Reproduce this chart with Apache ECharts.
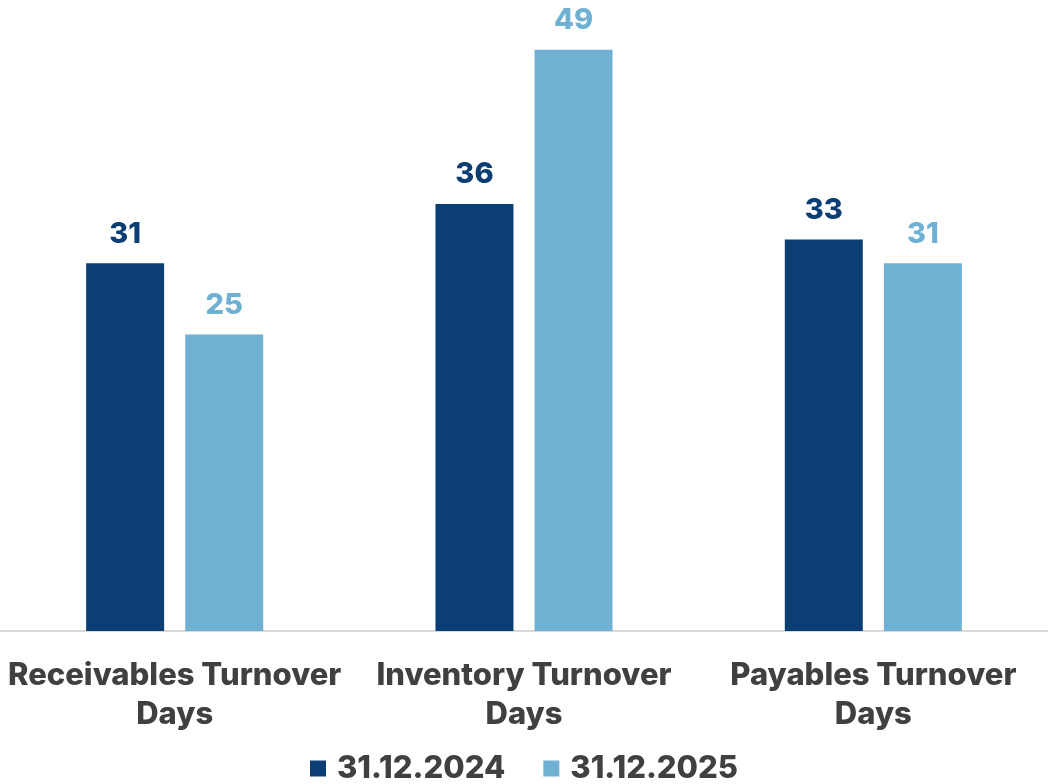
<!DOCTYPE html>
<html>
<head>
<meta charset="utf-8">
<script src="https://cdn.jsdelivr.net/npm/echarts@6/dist/echarts.min.js"></script>
<style>
  html, body { margin: 0; padding: 0; background: #ffffff; }
  #chart { width: 1048px; height: 784px; }
</style>
</head>
<body>
<div id="chart"></div>
<script>
const categories = ['Receivables Turnover\nDays', 'Inventory Turnover\nDays', 'Payables Turnover\nDays'];
const seriesNames = ['31.12.2024', '31.12.2025'];
const values2024 = [31, 36, 33];
const values2025 = [25, 49, 31];

const DARK = '#0b3f73';
const LIGHT = '#70b1d3';
const FONT = 'Inter, "Noto Sans", sans-serif';

const chart = echarts.init(document.getElementById('chart'));
chart.setOption({
  animation: false,
  grid: { left: 0, right: 0, top: 38, bottom: 153, containLabel: false },
  legend: {
    bottom: -5,
    left: 'center',
    itemWidth: 16,
    itemHeight: 16,
    itemGap: 38,
    icon: 'rect',
    textStyle: { fontFamily: FONT, fontWeight: 800, fontSize: 31, color: '#404040',
                 padding: [0, 0, 0, 6] },
    data: seriesNames
  },
  xAxis: {
    type: 'category',
    data: categories,
    axisLine: { lineStyle: { color: '#d9d9d9', width: 2 } },
    axisTick: { show: false },
    axisLabel: {
      margin: 25,
      fontFamily: FONT, fontWeight: 800, fontSize: 31, lineHeight: 39,
      color: '#404040', interval: 0
    }
  },
  yAxis: {
    type: 'value', min: 0, max: 50,
    show: false,
    splitLine: { show: false }
  },
  series: [
    {
      name: seriesNames[0], type: 'bar', data: values2024,
      barWidth: 78, barGap: '27%',
      itemStyle: { color: DARK },
      label: { show: true, position: 'top', distance: 15, color: DARK,
               fontFamily: FONT, fontWeight: 800, fontSize: 29 }
    },
    {
      name: seriesNames[1], type: 'bar', data: values2025,
      barWidth: 78,
      itemStyle: { color: LIGHT },
      label: { show: true, position: 'top', distance: 15, color: LIGHT,
               fontFamily: FONT, fontWeight: 800, fontSize: 29 }
    }
  ]
});
</script>
</body>
</html>
